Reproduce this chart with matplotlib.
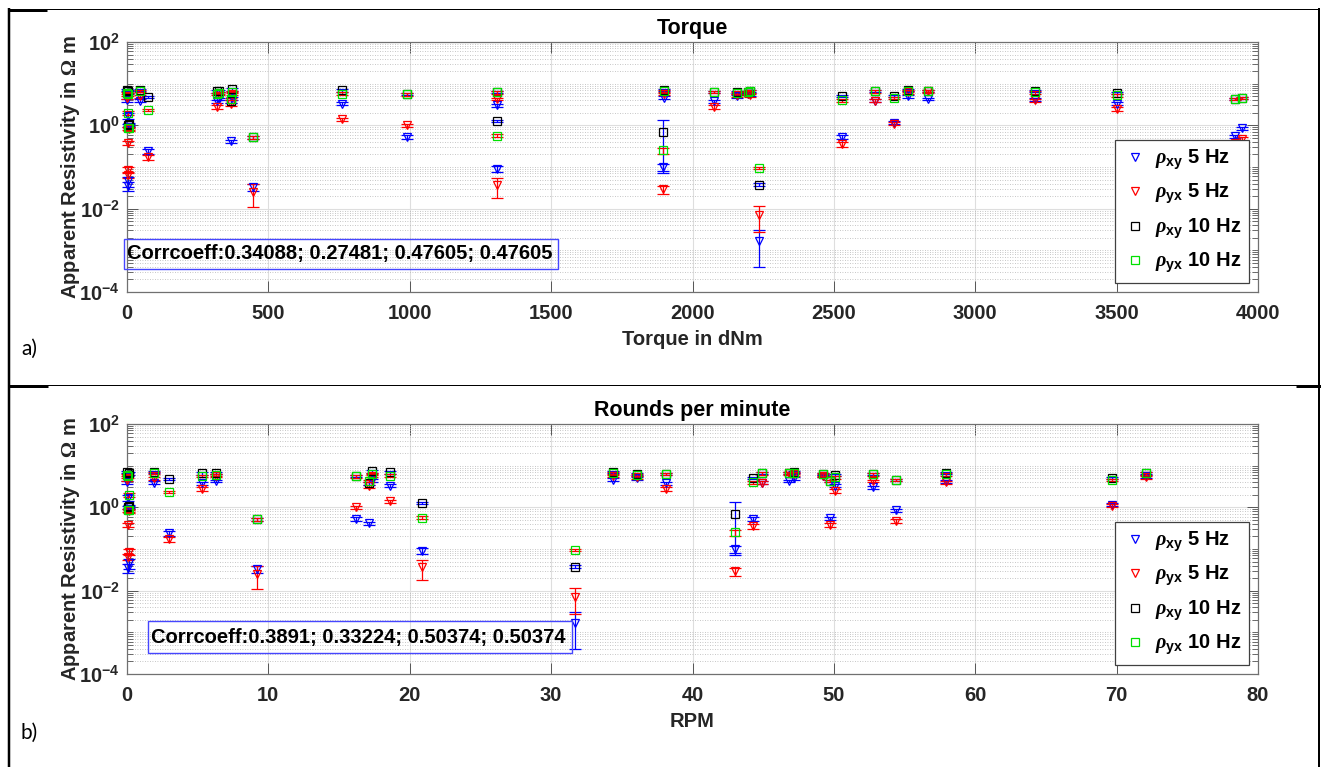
import numpy as np
import matplotlib
matplotlib.use('Agg')
import matplotlib.pyplot as plt
from matplotlib.lines import Line2D
from matplotlib.patches import Rectangle
from matplotlib.ticker import FixedLocator, FixedFormatter, LogLocator, NullFormatter

W, H = 1321, 767
plt.rcParams.update({
    'font.family': ['Liberation Sans', 'DejaVu Sans'],
    'font.weight': 'bold',
    'mathtext.fontset': 'custom',
    'mathtext.rm': 'Liberation Serif',
    'mathtext.it': 'Liberation Serif:italic',
    'mathtext.bf': 'Liberation Sans:bold',
})

# ---------------- data ----------------
torque = [0, 3, 5, 2, 6, 46, 73, 318, 325, 446, 991, 367, 372, 760, 1308, 2236,
          1900, 2159, 2077, 1897, 2529, 2647, 2833, 2761, 2198, 3917, 3944, 3500,
          1310, 3213, 2714, 2202]
rpm = [0, 0.1, 0.15, 0.05, 0.12, 1.9, 3.0, 5.3, 6.3, 9.2, 16.2, 17.1, 17.3, 18.6,
       20.9, 31.7, 34.4, 36.05, 38.1, 43.0, 44.3, 44.9, 46.8, 47.2, 49.2, 49.7,
       54.4, 50.05, 52.8, 57.9, 69.7, 72.05]

rho_xy_5 = [4.0, 1.7, 0.045, 0.035, 1.0, 3.9, 0.24, 3.8, 4.3, 0.033, 0.53, 0.41, 4.5,
            3.3, 0.092, 0.0017, 4.6, 5.0, 3.8, 0.1, 0.52, 3.9, 4.3, 5.0, 5.6, 0.55,
            0.86, 3.3, 3.0, 4.2, 1.15, 5.5]
rho_yx_5 = [4.6, 0.37, 0.085, 0.065, 0.8, 5.0, 0.17, 2.8, 5.8, 0.025, 1.0, 3.2, 5.8,
            1.4, 0.036, 0.0072, 5.8, 5.2, 2.75, 0.029, 0.35, 3.9, 6.5, 6.2, 5.8, 0.38,
            0.48, 2.5, 4.3, 4.0, 1.1, 5.2]
rho_xy_10 = [7.0, 1.0, 6.5, 6.0, 1.05, 6.9, 4.8, 6.5, 6.8, 0.52, 5.6, 3.8, 7.3, 6.9,
             1.3, 0.038, 7.0, 6.4, 6.3, 0.69, 5.0, 6.6, 6.8, 7.0, 6.4, 4.2, 4.6, 6.0,
             6.3, 6.6, 5.0, 6.8]
rho_yx_10 = [6.0, 0.85, 2.0, 5.5, 0.85, 6.8, 2.3, 5.6, 6.0, 0.52, 5.5, 4.3, 6.4, 5.8,
             0.57, 0.095, 6.5, 6.0, 6.3, 0.25, 4.0, 6.5, 6.6, 6.6, 6.2, 4.2, 4.6, 5.2,
             6.2, 6.2, 4.6, 6.5]

err_xy_5 = [0.35, 0.3, 0.012, 0.008, 0.08, 0.35, 0.03, 0.35, 0.35, 0.006, 0.05, 0.04,
            0.4, 0.3, 0.015, 0.0013, 0.4, 0.4, 0.3, 0.02, 0.06, 0.3, 0.35, 0.4, 0.4,
            0.05, 0.07, 0.3, 0.25, 0.35, 0.1, 0.4]
err_yx_5 = [0.4, 0.04, 0.015, 0.012, 0.07, 0.4, 0.025, 0.3, 0.4, 0.014, 0.08, 0.3,
            0.4, 0.12, 0.018, 0.0045, 0.4, 0.4, 0.25, 0.006, 0.04, 0.3, 0.4, 0.4, 0.4,
            0.04, 0.05, 0.25, 0.35, 0.35, 0.1, 0.4]
err_xy_10 = [0.5, 0.08, 0.5, 0.5, 0.08, 0.4, 0.3, 0.4, 0.4, 0.04, 0.4, 0.3, 0.5, 0.5,
             0.08, 0.003, 0.5, 0.4, 0.4, 0.62, 0.3, 0.4, 0.4, 0.5, 0.4, 0.25, 0.3,
             0.4, 0.4, 0.4, 0.3, 0.4]
err_yx_10 = [0.4, 0.07, 0.2, 0.4, 0.07, 0.4, 0.15, 0.4, 0.4, 0.04, 0.4, 0.3, 0.4, 0.4,
             0.04, 0.007, 0.4, 0.4, 0.4, 0.04, 0.3, 0.4, 0.4, 0.4, 0.4, 0.25, 0.3,
             0.35, 0.4, 0.4, 0.3, 0.4]

legend_labels = [r'$\rho_{\mathbf{xy}}$ 5 Hz', r'$\rho_{\mathbf{yx}}$ 5 Hz',
                 r'$\rho_{\mathbf{xy}}$ 10 Hz', r'$\rho_{\mathbf{yx}}$ 10 Hz']
y_ticks = [1e-4, 1e-2, 1e0, 1e2]
y_tick_labels = [r'$\mathbf{10^{-4}}$', r'$\mathbf{10^{-2}}$', r'$\mathbf{10^{0}}$',
                 r'$\mathbf{10^{2}}$']
torque_ticks = [0, 500, 1000, 1500, 2000, 2500, 3000, 3500, 4000]
rpm_ticks = [0, 10, 20, 30, 40, 50, 60, 70, 80]
titles = ['Torque', 'Rounds per minute']
xlabels = ['Torque in dNm', 'RPM']
corr_texts = ['Corrcoeff:0.34088; 0.27481; 0.47605; 0.47605',
              'Corrcoeff:0.3891; 0.33224; 0.50374; 0.50374']
panel_tags = ['a)', 'b)']

# ---------------- figure ----------------
fig = plt.figure(figsize=(W / 100, H / 100), dpi=100)

series = [
    (rho_xy_5, err_xy_5, 'v', '#0000ff', '#0000ff'),
    (rho_yx_5, err_yx_5, 'v', '#ff0000', '#ff0000'),
    (rho_xy_10, err_xy_10, 's', '#000000', '#0000ff'),
    (rho_yx_10, err_yx_10, 's', '#00e000', '#ff0000'),
]

panels = [
    dict(x=torque, ticks=torque_ticks, top=42, corr_box=(124, 239, 558, 269),
         corr_x=127, tag_y=349),
    dict(x=rpm, ticks=rpm_ticks, top=424, corr_box=(148, 621, 572, 653),
         corr_x=151, tag_y=733),
]

def fx(px):
    return px / W

def fy(py):
    return 1 - py / H

for i, p in enumerate(panels):
    top = p['top']
    ax = fig.add_axes([fx(127), fy(top + 250), 1131 / W, 250 / H])
    xv = p['x']
    handles = []
    for (vals, errs, mk, mc, ec), lab in zip(series, legend_labels):
        eb = ax.errorbar(xv, vals, yerr=errs, fmt='none', ecolor=ec,
                         elinewidth=0.9, capsize=4.5, capthick=0.9, zorder=3)
        for art in list(eb[1]) + list(eb[2]):
            art.set_clip_on(False)
        h, = ax.plot(xv, vals, ls='none', marker=mk, ms=5.5, mfc='none', mec=mc,
                     mew=0.9, clip_on=False, zorder=4, label=lab)
        handles.append(h)

    ax.set_yscale('log')
    ax.set_ylim(1e-4, 1e2)
    ax.set_xlim(p['ticks'][0], p['ticks'][-1])
    ax.yaxis.set_major_locator(FixedLocator(y_ticks))
    ax.yaxis.set_major_formatter(FixedFormatter(y_tick_labels))
    ax.yaxis.set_minor_locator(LogLocator(base=10, subs=np.arange(1, 10), numticks=30))
    ax.yaxis.set_minor_formatter(NullFormatter())
    ax.xaxis.set_major_locator(FixedLocator(p['ticks']))
    ax.set_xticklabels([str(t) for t in p['ticks']])

    ax.set_axisbelow(True)
    ax.grid(True, which='major', axis='both', color='#dedede', lw=0.8, ls='-')
    ax.grid(True, which='minor', axis='y', color='#b4b4b4', lw=0.6, ls=(0, (1, 2)))

    ax.tick_params(which='both', direction='in', top=True, right=True,
                   color='#555555', labelcolor='#262626', labelsize=14.5)
    ax.tick_params(which='major', length=8, width=0.7)
    ax.tick_params(which='minor', length=4, width=0.6)
    ax.tick_params(axis='x', pad=8.5)
    ax.tick_params(axis='y', pad=5.0)
    for s in ax.spines.values():
        s.set_color('#707070')
        s.set_linewidth(0.9)

    ax.set_title(titles[i], fontsize=15.5, fontweight='bold', pad=6, color='black')
    ax.set_xlabel(xlabels[i], fontsize=14.5, fontweight='bold', color='#262626',
                  labelpad=5)
    ax.set_ylabel(r'Apparent Resistivity in $\Omega$ m', fontsize=14.5,
                  fontweight='bold', color='#262626', labelpad=-2)

    leg = ax.legend(handles=handles, loc='lower right', bbox_to_anchor=(0.992, 0.036),
                    borderaxespad=0, fontsize=14.5, frameon=True, fancybox=False,
                    framealpha=1, edgecolor='#404040', handlelength=1.2,
                    handletextpad=0.35, borderpad=0.4, labelspacing=0.5)
    leg.get_frame().set_linewidth(0.9)

    x0, y0, x1, y1 = p['corr_box']
    fig.add_artist(Rectangle((fx(x0), fy(y1)), (x1 - x0) / W, (y1 - y0) / H,
                             transform=fig.transFigure, fill=False,
                             edgecolor='#4646ff', lw=1.0))
    fig.text(fx(p['corr_x']), fy((y0 + y1) / 2), corr_texts[i], fontsize=14.5,
             fontweight='bold', ha='left', va='center', color='black')

    fig.text(fx(21), fy(p['tag_y']), panel_tags[i], fontsize=15,
             fontweight='normal', family=['Lato', 'DejaVu Sans'],
             ha='left', va='center', color='black')

# ---------------- frame (table borders) ----------------
def seg(x0, y0, x1, y1, lw_px):
    fig.add_artist(Line2D([fx(x0), fx(x1)], [fy(y0), fy(y1)],
                          transform=fig.transFigure, color='black',
                          lw=lw_px * 0.72, solid_capstyle='butt'))

seg(8, 8.5, 1319, 8.5, 1)
seg(8, 9.5, 47, 9.5, 3)
seg(8, 384.5, 1319, 384.5, 1)
seg(8, 385.5, 48, 385.5, 3)
seg(1296, 385.5, 1321, 385.5, 3)
seg(9, 8, 9, 767, 2.5)
seg(1318.5, 8, 1318.5, 767, 2)

fig.savefig('out.png', dpi=100)
